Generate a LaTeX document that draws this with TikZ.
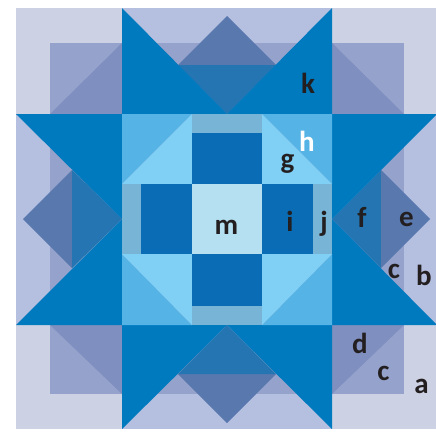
\documentclass[tikz,border=0pt]{standalone}
\usepackage{fontspec}
\setmainfont{Carlito}
\definecolor{qa}{HTML}{CCD1E3}
\definecolor{qb}{HTML}{B5BFE0}
\definecolor{qc}{HTML}{95A3CC}
\definecolor{qd}{HTML}{7F8FC0}
\definecolor{qe}{HTML}{5878AE}
\definecolor{qf}{HTML}{2475B1}
\definecolor{qk}{HTML}{007ABF}
\definecolor{qh}{HTML}{56B3E5}
\definecolor{qg}{HTML}{80CFF5}
\definecolor{qi}{HTML}{0A6CB5}
\definecolor{qj}{HTML}{78B4D6}
\definecolor{qm}{HTML}{B4E0F1}
\definecolor{ink}{HTML}{231F20}
\begin{document}
\begin{tikzpicture}[x=1bp,y=-1bp,
  lbl/.style={text=ink,font=\fontsize{29bp}{33bp}\selectfont\bfseries,inner sep=0pt,anchor=base},
  wlbl/.style={lbl,text=white}]
\useasboundingbox (0,0) rectangle (436,431);
% background frame
\fill[qa] (16,8) rectangle (437,429);
\fill[qb] (122,8) rectangle (332,114);
\fill[qb] (122,325) rectangle (332,429);
\fill[qb] (16,114) rectangle (122,325);
\fill[qb] (332,114) rectangle (437,325);
% inner c square
\fill[qc] (50,43) rectangle (404,394);
% d triangles in corners
\fill[qd] (50,114) -- (122,114) -- (122,43) -- cycle;
\fill[qd] (332,43) -- (332,114) -- (404,114) -- cycle;
\fill[qd] (50,325) -- (122,325) -- (122,394) -- cycle;
\fill[qd] (332,325) -- (404,325) -- (332,394) -- cycle;
% diamonds
\fill[qe] (178,65) -- (227,16) -- (276,65) -- cycle;
\fill[qf] (178,65) -- (227,114) -- (276,65) -- cycle;
\fill[qe] (178,374) -- (227,423) -- (276,374) -- cycle;
\fill[qf] (178,374) -- (227,325) -- (276,374) -- cycle;
\fill[qe] (72,170) -- (23,219) -- (72,268) -- cycle;
\fill[qf] (72,170) -- (122,219) -- (72,268) -- cycle;
\fill[qf] (381,170) -- (332,219) -- (381,268) -- cycle;
\fill[qe] (381,170) -- (430,219) -- (381,268) -- cycle;
% big star points
\fill[qk] (122,8) -- (122,114) -- (227,114) -- cycle;
\fill[qk] (332,8) -- (332,114) -- (227,114) -- cycle;
\fill[qk] (122,429) -- (122,325) -- (227,325) -- cycle;
\fill[qk] (332,429) -- (332,325) -- (227,325) -- cycle;
\fill[qk] (16,114) -- (122,114) -- (122,219) -- cycle;
\fill[qk] (16,325) -- (122,325) -- (122,219) -- cycle;
\fill[qk] (437,114) -- (332,114) -- (332,219) -- cycle;
\fill[qk] (437,325) -- (332,325) -- (332,219) -- cycle;
% centre corner cells
\fill[qh] (122,114) -- (192,114) -- (122,184) -- cycle;
\fill[qg] (192,114) -- (192,184) -- (122,184) -- cycle;
\fill[qh] (262,114) -- (332,114) -- (332,184) -- cycle;
\fill[qg] (262,114) -- (262,184) -- (332,184) -- cycle;
\fill[qh] (122,254) -- (122,325) -- (192,325) -- cycle;
\fill[qg] (122,254) -- (192,254) -- (192,325) -- cycle;
\fill[qh] (332,254) -- (332,325) -- (262,325) -- cycle;
\fill[qg] (262,254) -- (332,254) -- (262,325) -- cycle;
% centre edge cells
\fill[qj] (192,114) rectangle (262,133);
\fill[qi] (192,133) rectangle (262,184);
\fill[qi] (192,254) rectangle (262,306);
\fill[qj] (192,306) rectangle (262,325);
\fill[qj] (122,184) rectangle (141,254);
\fill[qi] (141,184) rectangle (192,254);
\fill[qi] (262,184) rectangle (313,254);
\fill[qj] (313,184) rectangle (332,254);
\fill[qm] (192,184) rectangle (262,254);
% labels
\node[lbl] (lk) at (308,93) {k};
\node[wlbl] (lh) at (307,151) {h};
\node[lbl] (lg) at (287.5,168) {g};
\node[lbl] (lm) at (226.5,234) {m};
\node[lbl] (li) at (290,231) {i};
\node[lbl] (lj) at (324,231) {j};
\node[lbl] (lf) at (362,227.5) {f};
\node[lbl] (le) at (406.5,226) {e};
\node[lbl] (lc1) at (394,278) {c};
\node[lbl] (lb) at (424,285) {b};
\node[lbl] (ld) at (360,353) {d};
\node[lbl] (lc2) at (383.5,380.5) {c};
\node[lbl] (la) at (421.5,393) {a};
\end{tikzpicture}
\end{document}
